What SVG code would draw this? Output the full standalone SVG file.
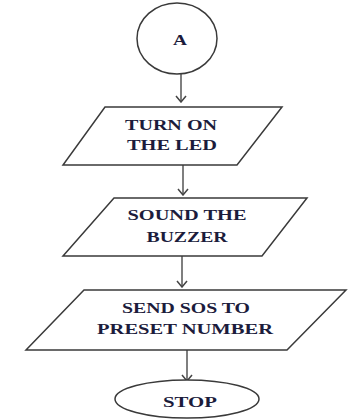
<svg xmlns="http://www.w3.org/2000/svg" width="348" height="419" viewBox="0 0 348 419">
<defs>
<style>
.shape{fill:#fff;stroke:#3a3a3a;stroke-width:1.5}
.lbl{font-family:"Liberation Serif","Times New Roman",serif;font-weight:bold;font-size:15px;fill:#1c1c3c;text-anchor:middle}
.conn{stroke:#555;stroke-width:1.5;fill:none;marker-end:url(#arr)}
</style>
<marker id="arr" viewBox="0 0 12 10" refX="6" refY="9" markerWidth="12" markerHeight="10" markerUnits="userSpaceOnUse" orient="0">
<path d="M1,3 L6,9 L11,3" fill="none" stroke="#444" stroke-width="1.5"/>
</marker>
</defs>
<rect width="348" height="419" fill="#fff"/>
<g id="connectors">
<line class="conn" x1="181" y1="74" x2="181" y2="102"/>
<line class="conn" x1="183" y1="165" x2="183" y2="195"/>
<line class="conn" x1="182" y1="256" x2="182" y2="287"/>
<line class="conn" x1="187" y1="350" x2="187" y2="381"/>
</g>
<g id="node-a">
<ellipse class="shape" cx="177" cy="38.5" rx="40" ry="35.5"/>
<text class="lbl" x="180" y="45" font-size="12" textLength="14" lengthAdjust="spacingAndGlyphs">A</text>
</g>
<g id="node-led">
<polygon class="shape" points="105,107 282,107 237,165 63,165"/>
<text class="lbl" x="171" y="130" textLength="92" lengthAdjust="spacingAndGlyphs">TURN ON</text>
<text class="lbl" x="172" y="150" textLength="90" lengthAdjust="spacingAndGlyphs">THE LED</text>
</g>
<g id="node-buzzer">
<polygon class="shape" points="114,198 307,198 262,256 63,256"/>
<text class="lbl" x="187" y="220" textLength="119" lengthAdjust="spacingAndGlyphs">SOUND THE</text>
<text class="lbl" x="187" y="242" textLength="81" lengthAdjust="spacingAndGlyphs">BUZZER</text>
</g>
<g id="node-sos">
<polygon class="shape" points="84,290 346,290 287,350 26,350"/>
<text class="lbl" x="186" y="313" textLength="128" lengthAdjust="spacingAndGlyphs">SEND SOS TO</text>
<text class="lbl" x="185" y="334" textLength="176" lengthAdjust="spacingAndGlyphs">PRESET NUMBER</text>
</g>
<g id="node-stop">
<ellipse class="shape" cx="187" cy="399" rx="72" ry="19"/>
<text class="lbl" x="190" y="407" textLength="54" lengthAdjust="spacingAndGlyphs">STOP</text>
</g>
</svg>
